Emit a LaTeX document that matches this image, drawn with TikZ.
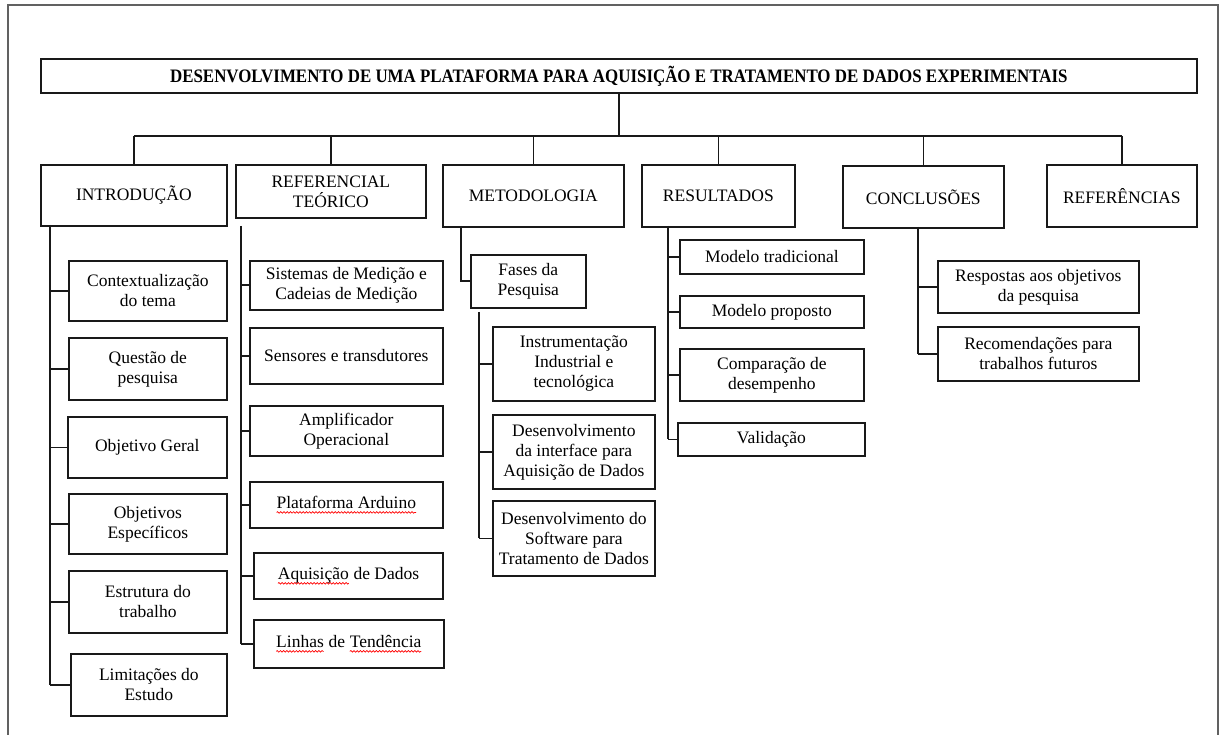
\documentclass[tikz,border=0pt]{standalone}
\usepackage{fontspec}
\setmainfont{Liberation Serif}
\usepackage{graphicx}
\usetikzlibrary{decorations.pathmorphing}
\newcommand\erro[1]{\tikz[baseline=(e.base)]{\node[inner sep=0pt, outer sep=0pt, draw=none, anchor=center,
    minimum width=0pt, minimum height=0pt] (e) {#1};
  \draw[red, line width=0.7pt, decorate, decoration={snake, amplitude=0.8pt, segment length=3.2pt}]
    ([yshift=-4pt]e.base west) -- ([yshift=-4pt]e.base east);}}
\tikzset{
  caixa/.style={draw=black!90, line width=1.7pt, anchor=north west, align=center, inner sep=1pt,
    font=\fontsize{17.5}{20}\selectfont},
  liga/.style={line width=1.7pt, black!90},
  moldura/.style={line width=2.2pt, black!62}
}
\begin{document}
\begin{tikzpicture}[x=1pt,y=-1pt]
			\useasboundingbox (0,0) rectangle (1221,735);
			\draw[moldura] (8,735) -- (8,5) -- (1218,5) -- (1218,735);
			% titulo
			\node[caixa, minimum width=1156, minimum height=34] (titulo) at (40,58)
				{\fontsize{19}{20}\selectfont\bfseries\scalebox{0.89}[1]{DESENVOLVIMENTO DE UMA PLATAFORMA PARA AQUISIÇÃO E TRATAMENTO DE DADOS EXPERIMENTAIS}};
			% capitulos
			\node[caixa, minimum width=186, minimum height=61] (intro) at (40,164) {INTRODUÇÃO};
			\node[caixa, minimum width=190, minimum height=53] (refteo) at (235,164) {REFERENCIAL\\TEÓRICO};
			\node[caixa, minimum width=181, minimum height=62] (metod) at (442,164) {METODOLOGIA};
			\node[caixa, minimum width=153, minimum height=62] (result) at (641,164) {RESULTADOS};
			\node[caixa, minimum width=161, minimum height=62] (concl) at (842,165) {CONCLUSÕES};
			\node[caixa, minimum width=150, minimum height=62] (refs) at (1046,164) {REFERÊNCIAS};
			\coordinate (barra) at (0,136);
			\draw[liga] (titulo.south) -- (titulo.south |- barra);
			\draw[liga] (intro.north |- barra) -- (refs.north |- barra);
			\foreach \n in {intro,refteo,metod,result,concl,refs}
				\draw[liga] (\n.north |- barra) -- (\n.north);
			% introducao
			\node[caixa, minimum width=158, minimum height=60] (ctx) at (68,260) {Contextualização\\do tema};
			\node[caixa, minimum width=158, minimum height=62] (qst) at (68,337) {Questão de\\pesquisa};
			\node[caixa, minimum width=159, minimum height=61] (obg) at (67,416) {Objetivo Geral};
			\node[caixa, minimum width=158, minimum height=60] (obe) at (68,493) {Objetivos\\Específicos};
			\node[caixa, minimum width=158, minimum height=62] (est) at (68,570) {Estrutura do\\trabalho};
			\node[caixa, minimum width=156, minimum height=62] (lim) at (70,653) {Limitações do\\Estudo};
			\coordinate (tI) at (50,225);
			\draw[liga] (tI) -- (tI |- lim.west);
			\foreach \n in {ctx,qst,obg,obe,est,lim}
				\draw[liga] (tI |- \n.west) -- (\n.west);
			% referencial teorico
			\node[caixa, minimum width=193, minimum height=49] (sis) at (249,260) {Sistemas de Medição e\\Cadeias de Medição};
			\node[caixa, minimum width=193, minimum height=56] (sen) at (249,327) {Sensores e transdutores};
			\node[caixa, minimum width=193, minimum height=50] (amp) at (249,405) {Amplificador\\Operacional};
			\node[caixa, minimum width=193, minimum height=46] (ard) at (249,481) {\erro{Plataforma Arduino}};
			\node[caixa, minimum width=189, minimum height=46] (aqu) at (253,552) {\erro{Aquisição} de Dados};
			\node[caixa, minimum width=190, minimum height=48] (lin) at (253,619) {\erro{Linhas} de \erro{Tendência}};
			\coordinate (tR) at (241,226);
			\draw[liga] (tR) -- (tR |- lin.west);
			\foreach \n in {sis,sen,amp,ard,aqu,lin}
				\draw[liga] (tR |- \n.west) -- (\n.west);
			% metodologia
			\node[caixa, minimum width=115, minimum height=53] (fases) at (470,254) {Fases da\\Pesquisa};
			\node[caixa, minimum width=162, minimum height=74] (ins) at (492,326) {Instrumentação\\Industrial e\\tecnológica};
			\node[caixa, minimum width=162, minimum height=74] (dif) at (492,414) {Desenvolvimento\\da interface para\\Aquisição de Dados};
			\node[caixa, minimum width=162, minimum height=75] (dsw) at (492,500) {Desenvolvimento do\\Software para\\Tratamento de Dados};
			\coordinate (tM) at (461,226);
			\draw[liga] (tM) |- (fases.west);
			\coordinate (tF) at (479,312);
			\draw[liga] (tF) -- (tF |- dsw.west);
			\foreach \n in {ins,dif,dsw}
				\draw[liga] (tF |- \n.west) -- (\n.west);
			% resultados
			\node[caixa, minimum width=184, minimum height=34] (mtr) at (679,239) {Modelo tradicional};
			\node[caixa, minimum width=184, minimum height=32] (mpr) at (679,295) {Modelo proposto};
			\node[caixa, minimum width=184, minimum height=52] (cmp) at (679,348) {Comparação de\\desempenho};
			\node[caixa, minimum width=187, minimum height=33] (val) at (677,422) {Validação};
			\coordinate (tS) at (668,226);
			\draw[liga] (tS) -- (tS |- val.west);
			\foreach \n in {mtr,mpr,cmp,val}
				\draw[liga] (tS |- \n.west) -- (\n.west);
			% conclusoes
			\node[caixa, minimum width=201, minimum height=52] (resp) at (937,260) {Respostas aos objetivos\\da pesquisa};
			\node[caixa, minimum width=201, minimum height=54] (rec) at (937,326) {Recomendações para\\trabalhos futuros};
			\coordinate (tC) at (918,227);
			\draw[liga] (tC) -- (tC |- rec.west);
			\foreach \n in {resp,rec}
				\draw[liga] (tC |- \n.west) -- (\n.west);
		\end{tikzpicture}
\end{document}
